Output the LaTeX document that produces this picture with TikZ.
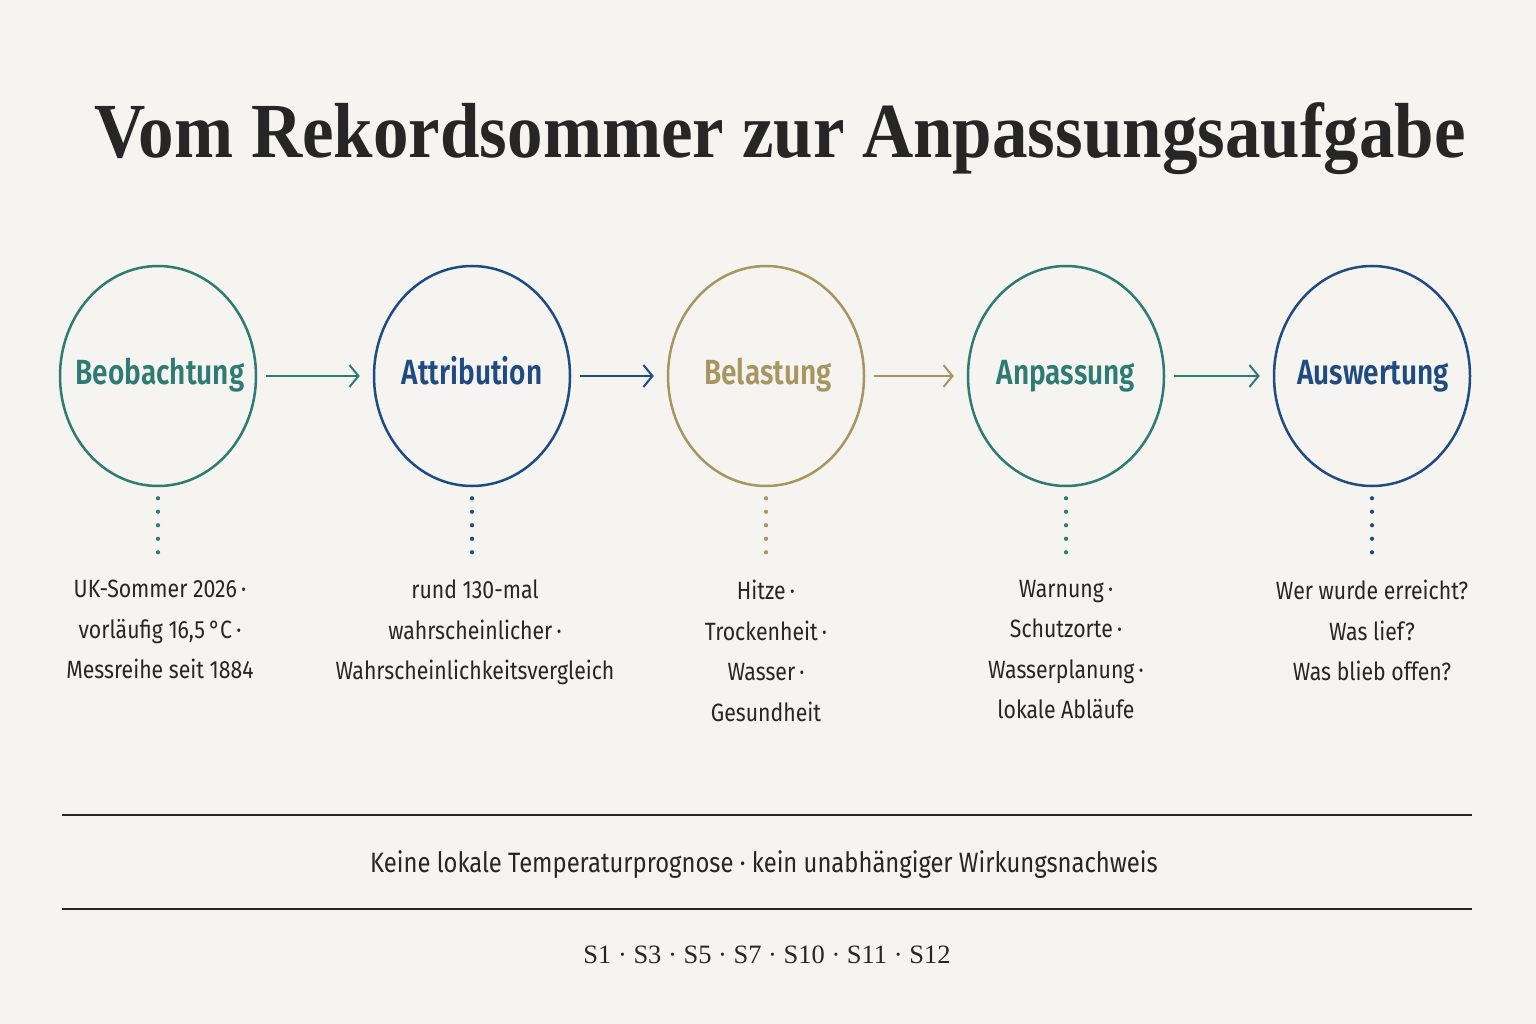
\documentclass[tikz,border=0pt]{standalone}
\usepackage{fontspec}
\setmainfont{Liberation Serif}
\newfontfamily\condf[FakeStretch=0.85]{Fira Sans}
\newfontfamily\notef[FakeStretch=0.85]{Fira Sans}
\newfontfamily\labf[FakeStretch=0.8]{Fira Sans SemiBold}
\newfontfamily\titlef[FakeStretch=0.91]{Liberation Serif}
\usetikzlibrary{shapes.geometric,arrows.meta}
\definecolor{bg}{HTML}{F5F4F0}
\definecolor{cteal}{HTML}{2E7B73}
\definecolor{cblue}{HTML}{1F4B80}
\definecolor{cgold}{HTML}{A89660}
\definecolor{ink}{HTML}{262626}
\tikzset{
  stage/.style={ellipse, draw=#1, line width=2.5pt, minimum width=196pt, minimum height=220pt, inner sep=0pt},
  lab/.style={text=#1, anchor=base, inner sep=0pt, font=\labf\fontsize{35}{38}\selectfont},
  arr/.style={draw=#1, line width=2pt, -{Straight Barb[length=9pt,width=22pt,line width=2pt]}, shorten <=9pt, shorten >=13pt},
  dotline/.style={draw=#1, line width=4.2pt, line cap=round, dash pattern=on 0pt off 13.5pt},
  desc/.style={text=ink, align=center, anchor=north, inner sep=0pt, font=\condf\fontsize{25}{40.5}\selectfont},
  rule/.style={draw=ink, line width=1.3pt}
}
\begin{document}
\begin{tikzpicture}[x=1pt,y=-1pt]
\fill[bg] (0,0) rectangle (1536,1024);
\useasboundingbox (0,0) rectangle (1536,1024);
\node[text=ink, font=\titlef\bfseries\fontsize{78}{80}\selectfont, inner sep=0pt, anchor=base] (title) at (780,158) {Vom Rekordsommer zur Anpassungsaufgabe};

\node[stage=cteal] (c1) at (158,376) {};
\node[stage=cblue] (c2) at (472,376) {};
\node[stage=cgold] (c3) at (766,376) {};
\node[stage=cteal] (c4) at (1066,376) {};
\node[stage=cblue] (c5) at (1372,376) {};
\node[lab=cteal] (l1) at (160,384) {Beobachtung};
\node[lab=cblue] (l2) at (472,384) {Attribution};
\node[lab=cgold] (l3) at (768,384) {Belastung};
\node[lab=cteal] (l4) at (1066,384) {Anpassung};
\node[lab=cblue] (l5) at (1373,384) {Auswertung};

\draw[arr=cteal] (c1) -- (c2);
\draw[arr=cblue] (c2) -- (c3);
\draw[arr=cgold] (c3) -- (c4);
\draw[arr=cteal] (c4) -- (c5);

\node[desc] (t1) at (160,580) {UK-Sommer 2026\,·\\vorläufig 16,5\,°C\,·\\Messreihe seit 1884};
\node[desc] (t2) at (475,580) {rund 130-mal\\wahrscheinlicher\,·\\Wahrscheinlichkeitsvergleich};
\node[desc] (t3) at (766,580) {Hitze\,·\\Trockenheit\,·\\Wasser\,·\\Gesundheit};
\node[desc] (t4) at (1066,580) {Warnung\,·\\Schutzorte\,·\\Wasserplanung\,·\\lokale Abläufe};
\node[desc] (t5) at (1372,580) {Wer wurde erreicht?\\Was lief?\\Was blieb offen?};

\foreach \i/\c in {1/cteal,2/cblue,3/cgold,4/cteal,5/cblue}{
  \draw[dotline=\c] ([yshift=-11pt]c\i.south) -- ([yshift=-66pt]c\i.south);
}

\coordinate (r1a) at (62,815); \coordinate (r1b) at (1472,815);
\coordinate (r2a) at (62,909); \coordinate (r2b) at (1472,909);
\draw[rule] (r1a) -- (r1b);
\draw[rule] (r2a) -- (r2b);
\node[text=ink, font=\notef\fontsize{28}{30}\selectfont, anchor=base, inner sep=0pt] (note) at (764,872) {Keine lokale Temperaturprognose · kein unabhängiger Wirkungsnachweis};
\node[text=ink, font=\fontsize{26.5}{30}\selectfont, anchor=base, inner sep=0pt] (src) at (767,963) {S1 · S3 · S5 · S7 · S10 · S11 · S12};
\end{tikzpicture}
\end{document}
